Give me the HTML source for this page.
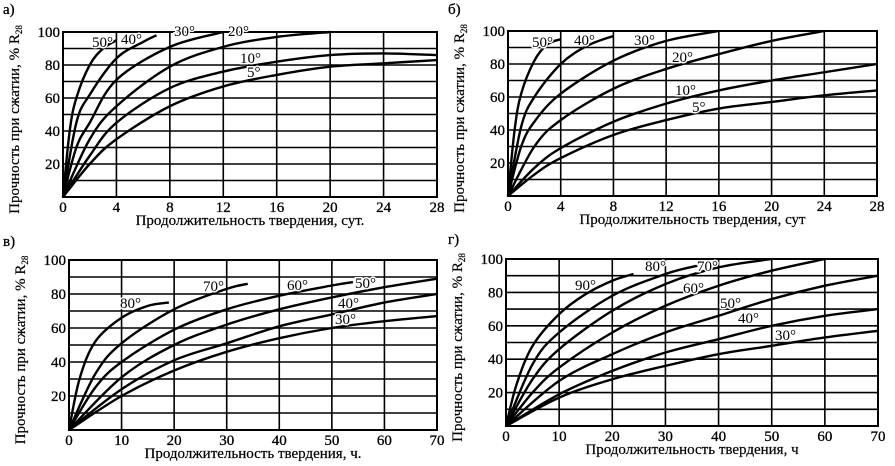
<!DOCTYPE html>
<html><head><meta charset="utf-8"><style>
html,body{margin:0;padding:0;background:#fff;}
svg{display:block;font-family:"Liberation Serif",serif;}
</style></head><body>
<svg id="s" width="895" height="466" viewBox="0 0 895 466" xmlns="http://www.w3.org/2000/svg"></svg>
<script>
const S=document.getElementById('s');let h='';
function P(o){
 const {x0,x1,y0,y1,xmax,xstep,curves,labels,xt,lab,lx,ly}=o;
 const X=v=>x0+(x1-x0)*v/xmax, Y=v=>y1-(y1-y0)*v/100;
 for(let v=10;v<100;v+=10) h+=`<line x1="${x0}" x2="${x1}" y1="${Y(v)}" y2="${Y(v)}" stroke="#000" stroke-width="1.6"/>`;
 for(let v=xstep;v<xmax;v+=xstep) h+=`<line y1="${y0}" y2="${y1}" x1="${X(v)}" x2="${X(v)}" stroke="#000" stroke-width="1.6"/>`;
 h+=`<rect x="${x0}" y="${y0}" width="${x1-x0}" height="${y1-y0}" fill="none" stroke="#000" stroke-width="2"/>`;
 for(let v=0;v<=xmax;v+=xstep) h+=`<text x="${X(v)}" y="${y1+15}" font-size="15" text-anchor="middle" stroke="#000" stroke-width="0.3">${v}</text>`;
 for(let v=20;v<=100;v+=20) h+=`<text x="${x0-3}" y="${Y(v)+5}" font-size="15" text-anchor="end" stroke="#000" stroke-width="0.3">${v}</text>`;
 h+=`<text x="${(x0+x1)/2}" y="${y1+28}" font-size="15" text-anchor="middle" stroke="#000" stroke-width="0.2">${xt}</text>`;
 h+=`<text transform="translate(${x0-44},${(y0+y1)/2+5}) rotate(-90)" font-size="15" text-anchor="middle" stroke="#000" stroke-width="0.2">Прочность при сжатии, % R<tspan font-size="9" dy="3">28</tspan></text>`;
 h+=`<text x="${lx}" y="${ly}" font-size="15" stroke="#000" stroke-width="0.3">${lab}</text>`;
 for(const c of curves){
  const p=c.map(([a,b])=>[X(a),Y(b)]);
  let d=`M${p[0][0]},${p[0][1]}`;
  for(let i=0;i<p.length-1;i++){
   const a=p[Math.max(i-1,0)],b=p[i],q=p[i+1],e=p[Math.min(i+2,p.length-1)];
   d+=` C${b[0]+(q[0]-a[0])/6},${b[1]+(q[1]-a[1])/6} ${q[0]-(e[0]-b[0])/6},${q[1]-(e[1]-b[1])/6} ${q[0]},${q[1]}`;
  }
  h+=`<path d="${d}" fill="none" stroke="#000" stroke-width="2.4"/>`;
 }
 for(const [t,x,y] of labels) h+=`<text x="${x}" y="${y}" font-size="15" fill="#000" stroke="#fff" stroke-width="3" paint-order="stroke">${t}°</text>`;
}
P({x0:63,x1:437,y0:32,y1:197,xmax:28,xstep:4,xt:"Продолжительность твердения, сут.",lab:"а)",lx:3,ly:14,
curves:[
[[0,0],[0.5,40],[1,60],[2,80],[3,90],[4,95]],
[[0,0],[1,45],[2,62],[4,84],[6,94],[7,98]],
[[0,0],[1,30],[2,45],[4,71],[8,91],[12,100]],
[[0,0],[2,35],[4,55],[8,79],[12,91],[16,97],[20,100]],
[[0,0],[2,25],[4,45],[8,66],[12,76],[16,82],[20,86],[24,87],[28,86]],
[[0,0],[2,20],[4,35],[8,55],[12,67],[16,74],[20,79],[24,81],[28,83]]],
labels:[["50",92,47],["40",121,44],["30",174,36],["20",228,36],["10",240,63],["5",247,77]]});
P({x0:508,x1:877,y0:31,y1:196,xmax:28,xstep:4,xt:"Продолжительность твердения, сут",lab:"б)",lx:448,ly:14,
curves:[
[[0,0],[0.5,40],[1,62],[2,82],[3,92],[4,95]],
[[0,0],[1,42],[2,60],[4,80],[6,91],[8,97]],
[[0,0],[1,30],[2,45],[4,62],[8,82],[12,94],[16,100]],
[[0,0],[2,30],[4,46],[8,65],[12,77],[16,86],[20,94],[24,100]],
[[0,0],[2,17],[4,29],[8,45],[12,56],[16,64],[20,70],[24,75],[28,80]],
[[0,0],[2,13],[4,23],[8,37],[12,46],[16,53],[20,57],[24,61],[28,64]]],
labels:[["50",532,47],["40",574,45],["30",634,45],["20",672,62],["10",675,95],["5",692,112]]});
P({x0:69,x1:437,y0:260,y1:430,xmax:70,xstep:10,xt:"Продолжительность твердения, ч.",lab:"в)",lx:3,ly:246,
curves:[
[[0,0],[2,30],[5,52],[10,66],[15,73],[19,75]],
[[0,0],[5,33],[10,51],[20,71],[30,83],[34,86]],
[[0,0],[5,25],[10,40],[20,59],[30,71],[40,79],[50,85],[54,87]],
[[0,0],[10,31],[20,50],[30,62],[40,71],[50,78],[60,84],[70,89]],
[[0,0],[10,24],[20,41],[30,51],[40,61],[50,68],[60,75],[70,80]],
[[0,0],[10,20],[20,35],[30,46],[40,54],[50,60],[60,64],[70,67]]],
labels:[["80",120,308],["70",203,291],["60",287,290],["50",355,288],["40",338,308],["30",335,324]]});
P({x0:506,x1:878,y0:259,y1:426,xmax:70,xstep:10,xt:"Продолжительность твердения, ч",lab:"г)",lx:448,ly:244,
curves:[
[[0,0],[2,25],[5,48],[10,67],[15,79],[20,87],[24,91]],
[[0,0],[5,37],[10,56],[20,78],[30,91],[36,96]],
[[0,0],[5,28],[10,46],[20,69],[30,85],[40,95],[50,100]],
[[0,0],[5,20],[10,35],[20,56],[30,72],[40,84],[50,93],[60,100]],
[[0,0],[10,27],[20,43],[30,56],[40,66],[50,76],[60,84],[70,90]],
[[0,0],[10,19],[20,33],[30,44],[40,52],[50,60],[60,66],[70,70]],
[[0,0],[10,17],[20,28],[30,36],[40,43],[50,48],[60,53],[70,57]]],
labels:[["90",575,290],["80",645,271],["70",697,271],["60",683,293],["50",720,308],["40",738,323],["30",775,340]]});
S.innerHTML=h;
</script>
</body></html>
